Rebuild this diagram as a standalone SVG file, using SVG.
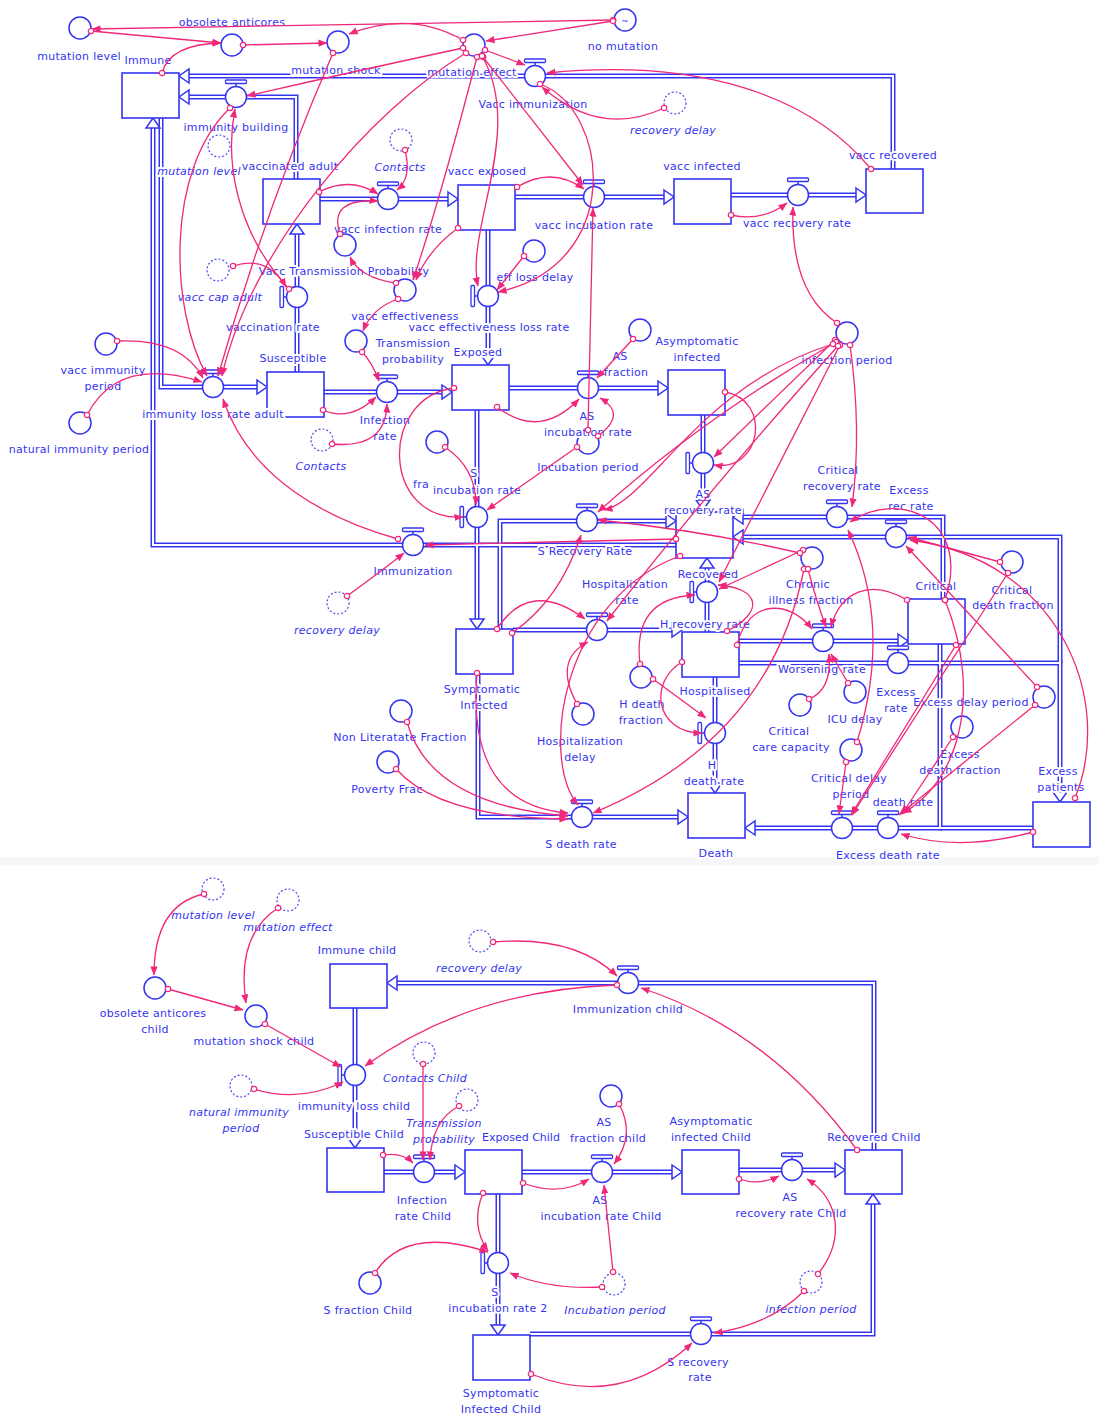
<svg xmlns="http://www.w3.org/2000/svg" width="1099" height="1417" viewBox="0 0 1099 1417">
<defs>
<style>
.t{font-family:"DejaVu Sans",Verdana,sans-serif;font-size:11px;fill:#3434f2;text-anchor:middle;letter-spacing:0.3px;stroke:#fff;stroke-width:4px;stroke-linejoin:round;paint-order:stroke}
.ti{font-style:italic}
.st{fill:#fff;stroke:#3434f2;stroke-width:1.6}
.ax{fill:#fff;stroke:#3434f2;stroke-width:1.5}
.gh{fill:#fff;stroke:#4a4af2;stroke-width:1.2;stroke-dasharray:2 2}
.po{fill:none;stroke:#3434f2;stroke-width:5}
.pi{fill:none;stroke:#fff;stroke-width:2}
.lk{fill:none;stroke:#f0287a;stroke-width:1.3;marker-start:url(#tc);marker-end:url(#ah)}
.bg{fill:#fff}
</style>
<marker id="ah" viewBox="0 0 10 10" refX="9.5" refY="5" markerWidth="9" markerHeight="9" markerUnits="userSpaceOnUse" orient="auto"><path d="M0,1 L10,5 L0,9 Z" fill="#f0287a"/></marker>
<marker id="tc" viewBox="0 0 10 10" refX="5" refY="5" markerWidth="8" markerHeight="8" markerUnits="userSpaceOnUse"><circle cx="5" cy="5" r="3.4" fill="#fff" stroke="#f0287a" stroke-width="1.5"/></marker>
<g id="vt"><circle r="10.5" fill="#fff" stroke="#3434f2" stroke-width="1.5"/><path d="M0,-10.5 V-14" stroke="#3434f2" stroke-width="1.5"/><rect x="-10.5" y="-17" width="21" height="3.5" rx="1" fill="#fff" stroke="#3434f2" stroke-width="1.3"/></g>
<path id="pa" d="M-10,-7 L0,0 L-10,7 Z" fill="#fff" stroke="#3434f2" stroke-width="1.5"/>
<path id="p1" d="M893,169V76H188"/>
<path id="p2" d="M296,179V97H188"/>
<path id="p3" d="M320,199H450"/>
<path id="p4" d="M515,197H666"/>
<path id="p5" d="M731,195H858"/>
<path id="p6" d="M488,230V357"/>
<path id="p7" d="M297,372V232"/>
<path id="p8" d="M161,118V387H259"/>
<path id="p9" d="M676,545H153V126"/>
<path id="p10" d="M324,392H444"/>
<path id="p11" d="M509,388H660"/>
<path id="p12" d="M477,410V621"/>
<path id="p13" d="M703,415V502"/>
<path id="p14" d="M500,629V521H668"/>
<path id="p15" d="M513,630H674"/>
<path id="p16" d="M707,632V566"/>
<path id="p17" d="M715,677V785"/>
<path id="p18" d="M739,641H900"/>
<path id="p19" d="M739,663H1060V794"/>
<path id="p20" d="M943,599V517H741"/>
<path id="p21" d="M1060,663V537H741"/>
<path id="p22" d="M940,644V828H753"/>
<path id="p23" d="M1033,828H940"/>
<path id="p24" d="M478,674V817H680"/>
<path id="q1" d="M874,1150V983H395"/>
<path id="q2" d="M355,1008V1140"/>
<path id="q3" d="M384,1172H457"/>
<path id="q4" d="M522,1172H674"/>
<path id="q5" d="M739,1170H837"/>
<path id="q6" d="M498,1194V1327"/>
<path id="q7" d="M530,1334H873V1202"/>
</defs>
<rect x="0" y="0" width="1099" height="1417" fill="#fff"/>
<rect x="0" y="857" width="1099" height="8" fill="#f6f6f8"/>

<g id="flows">
<g class="po"><use href="#p1"/><use href="#p2"/><use href="#p3"/><use href="#p4"/><use href="#p5"/><use href="#p6"/><use href="#p7"/><use href="#p8"/><use href="#p9"/><use href="#p10"/><use href="#p11"/><use href="#p12"/><use href="#p13"/><use href="#p14"/><use href="#p15"/><use href="#p16"/><use href="#p17"/><use href="#p18"/><use href="#p19"/><use href="#p20"/><use href="#p21"/><use href="#p22"/><use href="#p23"/><use href="#p24"/><use href="#q1"/><use href="#q2"/><use href="#q3"/><use href="#q4"/><use href="#q5"/><use href="#q6"/><use href="#q7"/></g>
<g class="pi"><use href="#p1"/><use href="#p2"/><use href="#p3"/><use href="#p4"/><use href="#p5"/><use href="#p6"/><use href="#p7"/><use href="#p8"/><use href="#p9"/><use href="#p10"/><use href="#p11"/><use href="#p12"/><use href="#p13"/><use href="#p14"/><use href="#p15"/><use href="#p16"/><use href="#p17"/><use href="#p18"/><use href="#p19"/><use href="#p20"/><use href="#p21"/><use href="#p22"/><use href="#p23"/><use href="#p24"/><use href="#q1"/><use href="#q2"/><use href="#q3"/><use href="#q4"/><use href="#q5"/><use href="#q6"/><use href="#q7"/></g>
<use href="#pa" transform="translate(179,76) rotate(180)"/>
<use href="#pa" transform="translate(179,97) rotate(180)"/>
<use href="#pa" transform="translate(458,199)"/>
<use href="#pa" transform="translate(674,197)"/>
<use href="#pa" transform="translate(866,195)"/>
<use href="#pa" transform="translate(488,365) rotate(90)"/>
<use href="#pa" transform="translate(297,224) rotate(-90)"/>
<use href="#pa" transform="translate(267,387)"/>
<use href="#pa" transform="translate(153,118) rotate(-90)"/>
<use href="#pa" transform="translate(452,392)"/>
<use href="#pa" transform="translate(668,388)"/>
<use href="#pa" transform="translate(477,629) rotate(90)"/>
<use href="#pa" transform="translate(703,510) rotate(90)"/>
<use href="#pa" transform="translate(676,521)"/>
<use href="#pa" transform="translate(682,630)"/>
<use href="#pa" transform="translate(707,558) rotate(-90)"/>
<use href="#pa" transform="translate(715,793) rotate(90)"/>
<use href="#pa" transform="translate(908,641)"/>
<use href="#pa" transform="translate(1060,802) rotate(90)"/>
<use href="#pa" transform="translate(733,517) rotate(180)"/>
<use href="#pa" transform="translate(733,537) rotate(180)"/>
<use href="#pa" transform="translate(745,828) rotate(180)"/>
<use href="#pa" transform="translate(688,817)"/>
<use href="#pa" transform="translate(387,983) rotate(180)"/>
<use href="#pa" transform="translate(355,1148) rotate(90)"/>
<use href="#pa" transform="translate(465,1172)"/>
<use href="#pa" transform="translate(682,1172)"/>
<use href="#pa" transform="translate(845,1170)"/>
<use href="#pa" transform="translate(498,1335) rotate(90)"/>
<use href="#pa" transform="translate(873,1194) rotate(-90)"/>
</g>

<g id="nodes">
<g id="n_mutation_level"><circle class="ax" cx="80" cy="28" r="11"/><text class="t" x="79" y="60">mutation level</text></g>
<g id="n_obsolete_anticores"><circle class="ax" cx="232" cy="45" r="11"/><text class="t" x="232" y="26">obsolete anticores</text></g>
<g id="n_mutation_shock"><circle class="ax" cx="338" cy="42" r="11"/><text class="t" x="336" y="74">mutation shock</text></g>
<g id="n_mutation_effect"><circle class="ax" cx="474" cy="45" r="11"/><text class="t" x="472" y="76">mutation effect</text></g>
<g id="n_no_mutation"><circle class="ax" cx="625" cy="20" r="11"/><text x="625" y="24" style="font-family:'DejaVu Sans',sans-serif;font-size:9px;fill:#3434f2;text-anchor:middle">~</text><text class="t" x="623" y="50">no mutation</text></g>
<g id="n_recovery_delay_g1"><circle class="gh" cx="675" cy="103" r="11"/><text class="t ti" x="673" y="134">recovery delay</text></g>
<g id="n_mutation_level_g1"><circle class="gh" cx="219" cy="146" r="11"/><text class="t ti" x="199" y="175">mutation level</text></g>
<g id="n_contacts_g1"><circle class="gh" cx="401" cy="140" r="11"/><text class="t ti" x="400" y="171">Contacts</text></g>
<g id="n_immune"><rect class="st" x="122" y="73" width="57" height="45"/><text class="t" x="148" y="64">Immune</text></g>
<g id="n_vaccinated_adult"><rect class="st" x="263" y="179" width="57" height="45"/><text class="t" x="290" y="170">vaccinated adult</text></g>
<g id="n_vacc_exposed"><rect class="st" x="458" y="185" width="57" height="45"/><text class="t" x="487" y="175">vacc exposed</text></g>
<g id="n_vacc_infected"><rect class="st" x="674" y="179" width="57" height="45"/><text class="t" x="702" y="170">vacc infected</text></g>
<g id="n_vacc_recovered"><rect class="st" x="866" y="169" width="57" height="44"/><text class="t" x="893" y="159">vacc recovered</text></g>
<g id="n_immunity_building"><use href="#vt" transform="translate(236,97)"/><text class="t" x="236" y="131">immunity building</text></g>
<g id="n_vacc_immunization"><use href="#vt" transform="translate(535,76)"/><text class="t" x="533" y="108">Vacc immunization</text></g>
<g id="n_vacc_infection_rate"><use href="#vt" transform="translate(388,199)"/><text class="t" x="388" y="233">vacc infection rate</text></g>
<g id="n_vacc_incubation_rate"><use href="#vt" transform="translate(594,197)"/><text class="t" x="594" y="229">vacc incubation rate</text></g>
<g id="n_vacc_recovery_rate"><use href="#vt" transform="translate(798,195)"/><text class="t" x="797" y="227">vacc recovery rate</text></g>
<g id="n_vtp"><circle class="ax" cx="345" cy="245" r="11"/><text class="t" x="344" y="275">Vacc Transmission Probability</text></g>
<g id="n_eff_loss_delay"><circle class="ax" cx="534" cy="251" r="11"/><text class="t" x="535" y="281">eff loss delay</text></g>
<g id="n_vacc_cap_g"><circle class="gh" cx="218" cy="270" r="11"/><text class="t ti" x="220" y="301">vacc cap adult</text></g>
<g id="n_vaccination_rate"><use href="#vt" transform="translate(297,297) rotate(-90)"/><text class="t" x="273" y="331">vaccination rate</text></g>
<g id="n_vacc_effectiveness"><circle class="ax" cx="405" cy="290" r="11"/><text class="t" x="405" y="320">vacc effectiveness</text></g>
<g id="n_vacc_eff_loss_rate"><use href="#vt" transform="translate(488,296) rotate(-90)"/><text class="t" x="489" y="331">vacc effectiveness loss rate</text></g>
<g id="n_trans_prob"><circle class="ax" cx="356" cy="341" r="11"/><text class="t" x="413" y="347">Transmission</text><text class="t" x="413" y="363">probability</text></g>
<g id="n_vacc_imm_period"><circle class="ax" cx="106" cy="344" r="11"/><text class="t" x="103" y="374">vacc immunity</text><text class="t" x="103" y="390">period</text></g>
<g id="n_nat_imm_period"><circle class="ax" cx="80" cy="423" r="11"/><text class="t" x="79" y="453">natural immunity period</text></g>
<g id="n_susceptible"><rect class="st" x="267" y="372" width="57" height="45"/><text class="t" x="293" y="362">Susceptible</text></g>
<g id="n_imm_loss_adult"><use href="#vt" transform="translate(213,387)"/><text class="t" x="213" y="418">immunity loss rate adult</text></g>
<g id="n_infection_rate"><use href="#vt" transform="translate(387,392)"/><text class="t" x="385" y="424">Infection</text><text class="t" x="385" y="440">rate</text></g>
<g id="n_exposed"><rect class="st" x="452" y="365" width="57" height="45"/><text class="t" x="478" y="356">Exposed</text></g>
<g id="n_contacts_g2"><circle class="gh" cx="322" cy="440" r="11"/><text class="t ti" x="321" y="470">Contacts</text></g>
<g id="n_s_fraction"><circle class="ax" cx="437" cy="442" r="11"/><text class="t" x="421" y="488">fra</text></g>
<g id="n_s_incubation_rate"><use href="#vt" transform="translate(477,517) rotate(-90)"/><text class="t" x="474" y="477">S</text><text class="t" x="477" y="494">incubation rate</text></g>
<g id="n_as_fraction"><circle class="ax" cx="640" cy="330" r="11"/><text class="t" x="620" y="360">AS</text><text class="t" x="626" y="376">fraction</text></g>
<g id="n_asym"><rect class="st" x="668" y="370" width="57" height="45"/><text class="t" x="697" y="345">Asymptomatic</text><text class="t" x="697" y="361">infected</text></g>
<g id="n_incubation_period"><circle class="ax" cx="588" cy="443" r="11"/><text class="t" x="588" y="471">Incubation period</text></g>
<g id="n_as_incubation_rate"><use href="#vt" transform="translate(588,388)"/><text class="t" x="587" y="420">AS</text><text class="t" x="588" y="436">incubation rate</text></g>
<g id="n_infection_period"><circle class="ax" cx="847" cy="333" r="11"/><text class="t" x="847" y="364">infection period</text></g>
<g id="n_recovered"><rect class="st" x="676" y="512" width="57" height="46"/><text class="t" x="708" y="578">Recovered</text></g>
<g id="n_as_recovery_rate"><use href="#vt" transform="translate(703,463) rotate(-90)"/><text class="t" x="703" y="498">AS</text><text class="t" x="703" y="514">recovery rate</text></g>
<g id="n_s_recovery_rate"><use href="#vt" transform="translate(587,521)"/><text class="t" x="585" y="555">S Recovery Rate</text></g>
<g id="n_immunization"><use href="#vt" transform="translate(413,545)"/><text class="t" x="413" y="575">Immunization</text></g>
<g id="n_recovery_delay_g2"><circle class="gh" cx="338" cy="603" r="11"/><text class="t ti" x="337" y="634">recovery delay</text></g>
<g id="n_symptomatic"><rect class="st" x="456" y="629" width="57" height="45"/><text class="t" x="482" y="693">Symptomatic</text><text class="t" x="484" y="709">Infected</text></g>
<g id="n_hosp_rate"><use href="#vt" transform="translate(597,630)"/><text class="t" x="625" y="588">Hospitalization</text><text class="t" x="627" y="604">rate</text></g>
<g id="n_hospitalised"><rect class="st" x="682" y="632" width="57" height="45"/><text class="t" x="715" y="695">Hospitalised</text></g>
<g id="n_h_recovery_rate"><use href="#vt" transform="translate(707,592) rotate(-90)"/><text class="t" x="705" y="628">H recovery rate</text></g>
<g id="n_chronic"><circle class="ax" cx="812" cy="558" r="11"/><text class="t" x="808" y="588">Chronic</text><text class="t" x="811" y="604">illness fraction</text></g>
<g id="n_critical_recovery_rate"><use href="#vt" transform="translate(837,517)"/><text class="t" x="838" y="474">Critical</text><text class="t" x="842" y="490">recovery rate</text></g>
<g id="n_excess_rec_rate"><use href="#vt" transform="translate(896,537)"/><text class="t" x="909" y="494">Excess</text><text class="t" x="911" y="510">rec rate</text></g>
<g id="n_critical"><rect class="st" x="908" y="599" width="57" height="45"/><text class="t" x="936" y="590">Critical</text></g>
<g id="n_crit_death_frac"><circle class="ax" cx="1012" cy="562" r="11"/><text class="t" x="1012" y="594">Critical</text><text class="t" x="1013" y="609">death fraction</text></g>
<g id="n_worsening_rate"><use href="#vt" transform="translate(823,641)"/><text class="t" x="822" y="673">Worsening rate</text></g>
<g id="n_excess_rate"><use href="#vt" transform="translate(898,663)"/><text class="t" x="896" y="696">Excess</text><text class="t" x="896" y="712">rate</text></g>
<g id="n_icu_delay"><circle class="ax" cx="855" cy="692" r="11"/><text class="t" x="855" y="723">ICU delay</text></g>
<g id="n_crit_care_cap"><circle class="ax" cx="800" cy="705" r="11"/><text class="t" x="789" y="735">Critical</text><text class="t" x="791" y="751">care capacity</text></g>
<g id="n_excess_delay_period"><circle class="ax" cx="1044" cy="697" r="11"/><text class="t" x="971" y="706">Excess delay period</text></g>
<g id="n_excess_death_frac"><circle class="ax" cx="962" cy="727" r="11"/><text class="t" x="960" y="758">Excess</text><text class="t" x="960" y="774">death fraction</text></g>
<g id="n_crit_death_rate"><use href="#vt" transform="translate(842,828)"/><text class="t" x="903" y="806">death rate</text></g>
<g id="n_crit_delay_period"><circle class="ax" cx="851" cy="750" r="11"/><text class="t" x="849" y="782">Critical delay</text><text class="t" x="851" y="798">period</text></g>
<g id="n_excess_death_rate"><use href="#vt" transform="translate(888,828)"/><text class="t" x="888" y="859">Excess death rate</text></g>
<g id="n_excess_patients"><rect class="st" x="1033" y="802" width="57" height="45"/><text class="t" x="1058" y="775">Excess</text><text class="t" x="1061" y="791">patients</text></g>
<g id="n_h_death_frac"><circle class="ax" cx="641" cy="677" r="11"/><text class="t" x="642" y="708">H death</text><text class="t" x="641" y="724">fraction</text></g>
<g id="n_hosp_delay"><circle class="ax" cx="583" cy="714" r="11"/><text class="t" x="580" y="745">Hospitalization</text><text class="t" x="580" y="761">delay</text></g>
<g id="n_h_death_rate"><use href="#vt" transform="translate(715,733) rotate(-90)"/><text class="t" x="712" y="769">H</text><text class="t" x="714" y="785">death rate</text></g>
<g id="n_death"><rect class="st" x="688" y="793" width="57" height="45"/><text class="t" x="716" y="857">Death</text></g>
<g id="n_non_literate"><circle class="ax" cx="401" cy="711" r="11"/><text class="t" x="400" y="741">Non Literatate Fraction</text></g>
<g id="n_poverty"><circle class="ax" cx="388" cy="762" r="11"/><text class="t" x="387" y="793">Poverty Frac</text></g>
<g id="n_s_death_rate"><use href="#vt" transform="translate(582,817)"/><text class="t" x="581" y="848">S death rate</text></g>

<g id="n_c_mutation_level_g"><circle class="gh" cx="213" cy="889" r="11"/><text class="t ti" x="213" y="919">mutation level</text></g>
<g id="n_c_mutation_effect_g"><circle class="gh" cx="288" cy="900" r="11"/><text class="t ti" x="288" y="931">mutation effect</text></g>
<g id="n_c_obsolete"><circle class="ax" cx="155" cy="988" r="11"/><text class="t" x="153" y="1017">obsolete anticores</text><text class="t" x="155" y="1033">child</text></g>
<g id="n_c_mutation_shock"><circle class="ax" cx="256" cy="1016" r="11"/><text class="t" x="254" y="1045">mutation shock child</text></g>
<g id="n_c_immune"><rect class="st" x="330" y="964" width="57" height="44"/><text class="t" x="357" y="954">Immune child</text></g>
<g id="n_c_recovery_delay_g"><circle class="gh" cx="480" cy="941" r="11"/><text class="t ti" x="479" y="972">recovery delay</text></g>
<g id="n_c_immunization"><use href="#vt" transform="translate(628,983)"/><text class="t" x="628" y="1013">Immunization child</text></g>
<g id="n_c_contacts_g"><circle class="gh" cx="424" cy="1053" r="11"/><text class="t ti" x="425" y="1082">Contacts Child</text></g>
<g id="n_c_nat_imm_g"><circle class="gh" cx="241" cy="1086" r="11"/><text class="t ti" x="239" y="1116">natural immunity</text><text class="t ti" x="241" y="1132">period</text></g>
<g id="n_c_imm_loss"><use href="#vt" transform="translate(355,1075) rotate(-90)"/><text class="t" x="354" y="1110">immunity loss child</text></g>
<g id="n_c_susceptible"><rect class="st" x="327" y="1148" width="57" height="44"/><text class="t" x="354" y="1138">Susceptible Child</text></g>
<g id="n_c_exposed"><rect class="st" x="465" y="1150" width="57" height="44"/><text class="t" x="482" y="1141" style="text-anchor:start;letter-spacing:0">Exposed Child</text></g>
<g id="n_c_trans_prob_g"><circle class="gh" cx="467" cy="1100" r="11"/><text class="t ti" x="444" y="1127">Transmission</text><text class="t ti" x="444" y="1143">probability</text></g>
<g id="n_c_infection_rate"><use href="#vt" transform="translate(424,1172)"/><text class="t" x="422" y="1204">Infection</text><text class="t" x="423" y="1220">rate Child</text></g>
<g id="n_c_as_fraction"><circle class="ax" cx="611" cy="1096" r="11"/><text class="t" x="604" y="1126">AS</text><text class="t" x="608" y="1142">fraction child</text></g>
<g id="n_c_as_incubation"><use href="#vt" transform="translate(602,1172)"/><text class="t" x="600" y="1204">AS</text><text class="t" x="601" y="1220">incubation rate Child</text></g>
<g id="n_c_asym"><rect class="st" x="682" y="1150" width="57" height="44"/><text class="t" x="711" y="1125">Asymptomatic</text><text class="t" x="711" y="1141">infected Child</text></g>
<g id="n_c_as_recovery"><use href="#vt" transform="translate(792,1170)"/><text class="t" x="790" y="1201">AS</text><text class="t" x="791" y="1217">recovery rate Child</text></g>
<g id="n_c_recovered"><rect class="st" x="845" y="1150" width="57" height="44"/><text class="t" x="874" y="1141">Recovered Child</text></g>
<g id="n_c_s_fraction"><circle class="ax" cx="370" cy="1283" r="11"/><text class="t" x="368" y="1314">S fraction Child</text></g>
<g id="n_c_s_incubation"><use href="#vt" transform="translate(498,1263) rotate(-90)"/><text class="t" x="495" y="1296">S</text><text class="t" x="498" y="1312">incubation rate 2</text></g>
<g id="n_c_incubation_period_g"><circle class="gh" cx="614" cy="1284" r="11"/><text class="t ti" x="615" y="1314">Incubation period</text></g>
<g id="n_c_infection_period_g"><circle class="gh" cx="811" cy="1282" r="11"/><text class="t ti" x="811" y="1313">infection period</text></g>
<g id="n_c_s_recovery"><use href="#vt" transform="translate(701,1334)"/><text class="t" x="698" y="1366">S recovery</text><text class="t" x="700" y="1381">rate</text></g>
<g id="n_c_symptomatic"><rect class="st" x="473" y="1335" width="57" height="45"/><text class="t" x="501" y="1397">Symptomatic</text><text class="t" x="501" y="1413">Infected Child</text></g>
</g>

<g id="links">
<path class="lk" d="M613,20 L92,29"/>
<path class="lk" d="M91,31 L221,43"/>
<path class="lk" d="M243,45 L327,43"/>
<path class="lk" d="M162,73 Q170,44 221,43"/>
<path class="lk" d="M463,40 Q410,10 349,34"/>
<path class="lk" d="M613,21 L486,41"/>
<path class="lk" d="M485,50 L525,65"/>
<path class="lk" d="M871,169 C810,95 700,58 547,73"/>
<path class="lk" d="M664,108 Q600,138 542,87"/>
<path class="lk" d="M463,48 Q360,70 247,96"/>
<path class="lk" d="M333,53 Q265,210 218,376"/>
<path class="lk" d="M466,53 C370,110 250,250 222,376"/>
<path class="lk" d="M230,108 C165,170 170,310 207,376"/>
<path class="lk" d="M289,289 C235,230 225,160 235,109"/>
<path class="lk" d="M233,266 Q268,255 286,287"/>
<path class="lk" d="M405,150 Q412,178 397,190"/>
<path class="lk" d="M319,192 Q350,176 378,194"/>
<path class="lk" d="M340,234 Q328,198 378,201"/>
<path class="lk" d="M517,187 Q552,166 584,189"/>
<path class="lk" d="M483,57 L583,185"/>
<path class="lk" d="M588,430 L593,208"/>
<path class="lk" d="M731,215 Q762,222 787,203"/>
<path class="lk" d="M837,323 Q790,292 793,207"/>
<path class="lk" d="M477,57 Q440,200 413,280"/>
<path class="lk" d="M482,56 C525,130 465,230 478,286"/>
<path class="lk" d="M540,84 C610,110 625,265 498,292"/>
<path class="lk" d="M524,256 L497,290"/>
<path class="lk" d="M458,228 Q428,250 416,280"/>
<path class="lk" d="M396,283 Q360,278 350,257"/>
<path class="lk" d="M398,299 Q372,308 363,331"/>
<path class="lk" d="M332,444 Q386,449 387,404"/>
<path class="lk" d="M323,410 Q350,422 376,397"/>
<path class="lk" d="M362,352 Q372,362 379,381"/>
<path class="lk" d="M454,388 C378,398 382,522 463,517"/>
<path class="lk" d="M497,407 Q540,440 579,399"/>
<path class="lk" d="M633,339 L597,378"/>
<path class="lk" d="M598,436 Q628,414 600,398"/>
<path class="lk" d="M577,447 L487,510"/>
<path class="lk" d="M445,447 Q476,468 476,505"/>
<path class="lk" d="M117,341 Q182,338 203,378"/>
<path class="lk" d="M87,415 Q118,355 202,382"/>
<path class="lk" d="M398,539 C330,520 250,480 223,399"/>
<path class="lk" d="M347,596 Q383,570 404,553"/>
<path class="lk" d="M676,539 L425,545"/>
<path class="lk" d="M725,392 C772,400 762,472 714,465"/>
<path class="lk" d="M835,340 L714,457"/>
<path class="lk" d="M836,342 Q700,420 598,512"/>
<path class="lk" d="M833,344 C700,385 650,500 604,510"/>
<path class="lk" d="M850,345 Q862,430 852,507"/>
<path class="lk" d="M840,345 L719,582"/>
<path class="lk" d="M838,346 Q700,500 607,621"/>
<path class="lk" d="M497,629 Q530,578 585,619"/>
<path class="lk" d="M512,633 Q560,600 581,535"/>
<path class="lk" d="M577,704 Q553,660 588,642"/>
<path class="lk" d="M407,722 Q430,805 568,816"/>
<path class="lk" d="M396,769 Q440,818 568,819"/>
<path class="lk" d="M477,673 Q466,805 568,813"/>
<path class="lk" d="M804,569 Q770,740 593,813"/>
<path class="lk" d="M680,556 C560,600 540,760 578,805"/>
<path class="lk" d="M653,679 L706,718"/>
<path class="lk" d="M682,662 C648,682 655,733 702,733"/>
<path class="lk" d="M640,664 Q632,598 695,595"/>
<path class="lk" d="M727,631 C765,612 760,588 718,585"/>
<path class="lk" d="M737,645 C748,598 790,600 812,629"/>
<path class="lk" d="M808,569 Q816,600 826,627"/>
<path class="lk" d="M907,600 C870,578 840,592 831,627"/>
<path class="lk" d="M809,699 Q832,690 829,654"/>
<path class="lk" d="M848,683 L831,654"/>
<path class="lk" d="M803,550 Q760,570 719,589"/>
<path class="lk" d="M800,553 Q700,530 598,520"/>
<path class="lk" d="M945,600 C972,520 900,488 850,522"/>
<path class="lk" d="M857,742 Q893,625 848,530"/>
<path class="lk" d="M1037,687 L906,546"/>
<path class="lk" d="M1000,562 L908,537"/>
<path class="lk" d="M1008,573 L852,815"/>
<path class="lk" d="M846,762 L839,814"/>
<path class="lk" d="M1035,705 L899,815"/>
<path class="lk" d="M953,737 L902,814"/>
<path class="lk" d="M956,645 L851,815"/>
<path class="lk" d="M1033,832 Q960,852 901,834"/>
<path class="lk" d="M1075,798 C1115,700 1060,560 910,540"/>
<path class="lk" d="M945,600 C985,700 955,785 903,813"/>

<path class="lk" d="M204,894 Q154,905 154,975"/>
<path class="lk" d="M278,908 Q236,935 246,1003"/>
<path class="lk" d="M168,989 L243,1010"/>
<path class="lk" d="M265,1024 L341,1067"/>
<path class="lk" d="M254,1089 Q300,1103 343,1082"/>
<path class="lk" d="M617,985 Q470,990 365,1066"/>
<path class="lk" d="M493,942 Q575,935 617,976"/>
<path class="lk" d="M857,1150 Q770,1030 641,988"/>
<path class="lk" d="M423,1064 L423,1160"/>
<path class="lk" d="M459,1106 Q432,1120 430,1160"/>
<path class="lk" d="M383,1155 Q402,1152 413,1163"/>
<path class="lk" d="M523,1183 Q560,1197 589,1179"/>
<path class="lk" d="M619,1104 Q636,1135 614,1164"/>
<path class="lk" d="M613,1272 L604,1185"/>
<path class="lk" d="M602,1287 Q550,1290 510,1273"/>
<path class="lk" d="M483,1193 Q470,1225 488,1251"/>
<path class="lk" d="M375,1273 Q405,1225 488,1252"/>
<path class="lk" d="M739,1179 Q760,1186 779,1176"/>
<path class="lk" d="M818,1274 C845,1240 840,1200 807,1179"/>
<path class="lk" d="M804,1291 Q770,1325 714,1333"/>
<path class="lk" d="M531,1374 Q620,1410 692,1343"/>
</g>
</svg>
